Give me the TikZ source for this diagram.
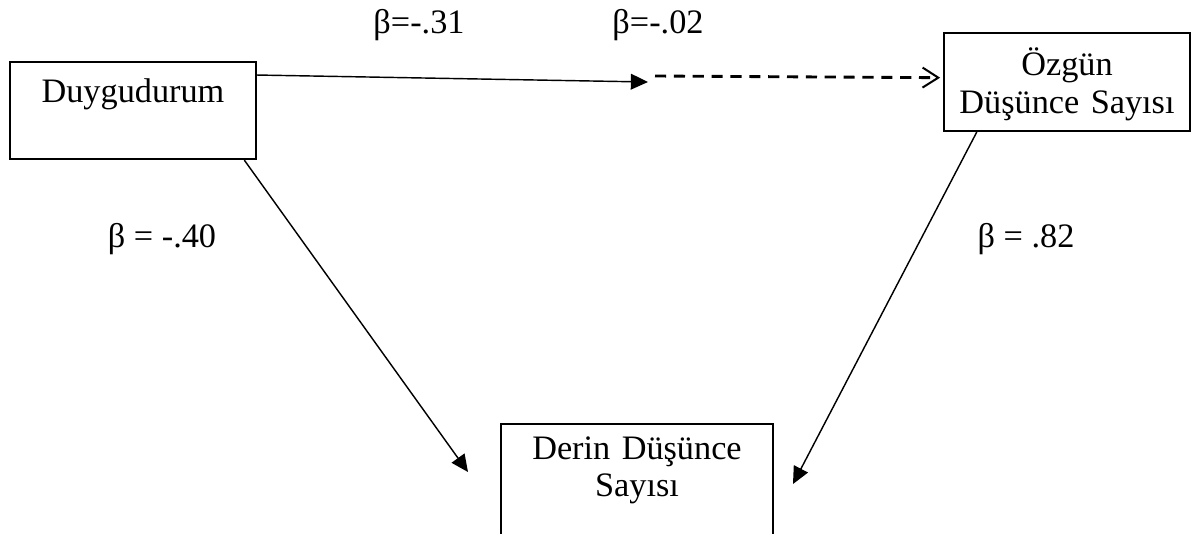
\documentclass[tikz,border=0pt]{standalone}
\usepackage{fontspec}
\setmainfont{Liberation Serif}
\usetikzlibrary{arrows.meta}

\begin{document}
\begin{tikzpicture}[
    x=0.35pt, y=-0.35pt,
    font=\fontsize{12}{13}\selectfont,
    box/.style={rectangle, draw=black, line width=0.7pt, anchor=north west,
      inner sep=0pt, text width=#1, align=center},
    arrow/.style={-{Triangle[length=6pt,width=5.5pt]}, line width=0.5pt},
    dasharrow/.style={-{Straight Barb[length=5.5pt,width=7pt,line width=0.7pt]},
      line width=1pt, dash pattern=on 3.9pt off 2.7pt},
    coef/.style={anchor=base, inner sep=0pt},
  ]
    \clip (0,0) rectangle (1193,533);
    \node[box=86.1pt, text height=14pt, text depth=20pt] (duy) at (9,61) {Duygudurum};
    \node[box=86.1pt, text height=15pt, text depth=19.3pt] (ozg) at (943,32) {Özgün\\Düşünce Sayısı};
    \node[box=95.2pt, text height=12.3pt, text depth=40pt] (der) at (500,423) {Derin Düşünce\\Sayısı};
    \coordinate (mid) at (648,82);
    \coordinate (dmid) at (655,76);
    \coordinate (derL) at (468,472);
    \coordinate (derR) at (793,484);
    \draw[arrow] (duy.16) -- (mid);
    \draw[dasharrow] (dmid) -- ([xshift=-1pt]ozg.178);
    \draw[arrow] (duy.-24.8) -- (derL);
    \draw[arrow] (ozg.209) -- (derR);
    \node[coef] (b1) at (419,33) {β=-.31};
    \node[coef] (b2) at (658,33) {β=-.02};
    \node[coef] (b3) at (162,247) {β = -.40};
    \node[coef] (b4) at (1026,247) {β = .82};
\end{tikzpicture}
\end{document}
